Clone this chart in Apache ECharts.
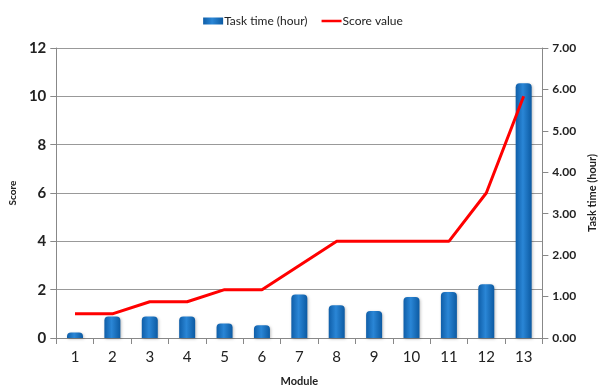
<!DOCTYPE html>
<html>
<head>
<meta charset="utf-8">
<script src="https://cdn.jsdelivr.net/npm/echarts@6/dist/echarts.min.js"></script>
<style>
  html, body { margin: 0; padding: 0; background: #fff; }
  #main { width: 606px; height: 392px; }
</style>
</head>
<body>
<div id="main"></div>
<script>
var modules = ['1', '2', '3', '4', '5', '6', '7', '8', '9', '10', '11', '12', '13'];
var taskTime = [0.13, 0.52, 0.52, 0.52, 0.35, 0.31, 1.05, 0.79, 0.65, 0.99, 1.11, 1.30, 6.15];
var scoreValue = [1, 1, 1.5, 1.5, 2, 2, 3, 4, 4, 4, 4, 6, 10];

var chart = echarts.init(document.getElementById('main'));

var barColor = new echarts.graphic.LinearGradient(0, 0, 1, 0, [
  { offset: 0, color: '#0f5ea8' },
  { offset: 0.45, color: '#2a86d6' },
  { offset: 1, color: '#0c5aa2' }
]);

var option = {
  animation: false,
  textStyle: { fontFamily: 'Lato' },
  legend: {
    top: 10,
    left: 'center',
    itemGap: 14,
    itemHeight: 7,
    itemWidth: 20,
    textStyle: { fontSize: 12, color: '#222', fontFamily: 'Lato', padding: [0, 0, 0, -4] },
    data: [
      { name: 'Task time (hour)', icon: 'rect' },
      // thin line icon: the zero-area corner moves keep the box 20x7
      { name: 'Score value', icon: 'path://M0,0 L0.01,0 L0,0 Z M0,2.2 L20,2.2 L20,4.8 L0,4.8 Z M20,7 L19.99,7 L20,7 Z' }
    ]
  },
  grid: {
    left: 55,
    right: 55,
    top: 48,
    bottom: 48
  },
  xAxis: {
    type: 'category',
    data: modules,
    name: 'Module',
    nameLocation: 'middle',
    nameGap: 38,
    nameTextStyle: { fontSize: 11, fontWeight: 'bold', color: '#222' },
    axisLine: { lineStyle: { color: '#888' } },
    axisTick: { show: true, length: 6, lineStyle: { color: '#888' } },
    axisLabel: { fontSize: 15, color: '#222', margin: 12 }
  },
  yAxis: [
    {
      type: 'value',
      name: 'Score',
      nameLocation: 'middle',
      nameGap: 38,
      nameTextStyle: { fontSize: 10, fontWeight: 'bold', color: '#222' },
      min: 0,
      max: 12,
      interval: 2,
      axisLine: { show: true, lineStyle: { color: '#888' } },
      axisTick: { show: true, length: 6, lineStyle: { color: '#888' } },
      axisLabel: { fontSize: 15, fontWeight: 'bold', color: '#222', margin: 10 },
      splitLine: { show: true, lineStyle: { color: '#999' } }
    },
    {
      type: 'value',
      name: 'Task time (hour)',
      nameLocation: 'middle',
      nameGap: 44,
      nameRotate: 90,
      nameTextStyle: { fontSize: 11, fontWeight: 'bold', color: '#222' },
      min: 0,
      max: 7,
      interval: 1,
      axisLine: { show: true, lineStyle: { color: '#888' } },
      axisTick: { show: true, length: 6, lineStyle: { color: '#888' } },
      axisLabel: {
        fontSize: 12, fontWeight: 'bold', color: '#222', margin: 10,
        formatter: function (v) { return v.toFixed(2); }
      },
      splitLine: { show: false }
    }
  ],
  series: [
    {
      name: 'Task time (hour)',
      type: 'bar',
      yAxisIndex: 1,
      barWidth: 16,
      itemStyle: {
        color: barColor,
        borderRadius: [4, 4, 0, 0],
        shadowColor: 'rgba(0,0,0,0.25)',
        shadowBlur: 3,
        shadowOffsetX: 1,
        shadowOffsetY: 1
      },
      data: taskTime
    },
    {
      name: 'Score value',
      type: 'line',
      yAxisIndex: 0,
      symbol: 'none',
      lineStyle: { color: '#ff0000', width: 3 },
      itemStyle: { color: '#ff0000' },
      data: scoreValue
    }
  ]
};

chart.setOption(option);
</script>
</body>
</html>
